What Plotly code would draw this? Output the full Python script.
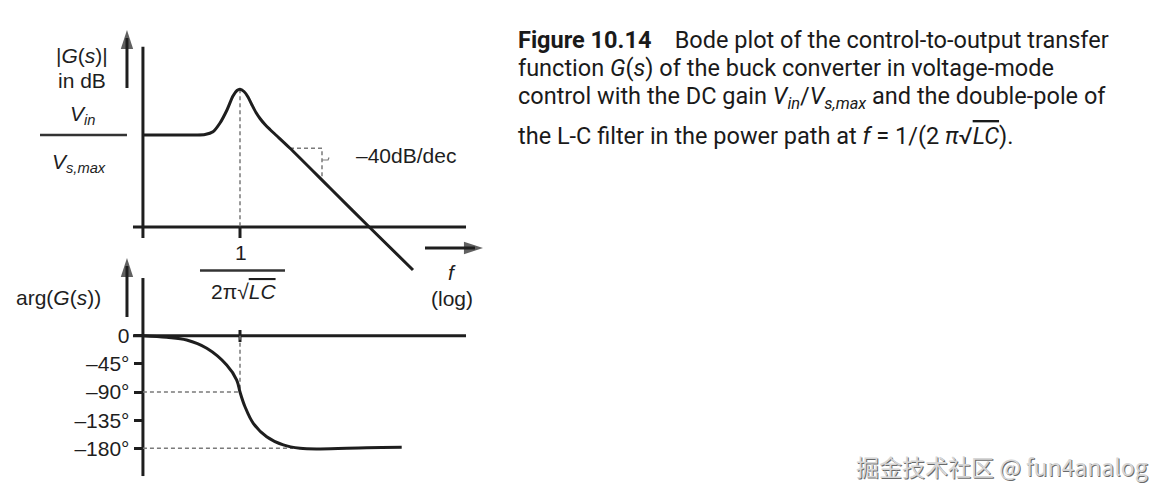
import math
import plotly.graph_objects as go

# ---------------- data (x = f / f0 on a log axis) ----------------
# magnitude |G(s)| in dB
mag_f = [0.107, 0.355, 0.447, 0.537, 0.631, 0.741, 0.851, 0.933, 1.0, 1.096,
         1.202, 1.318, 1.445, 1.585, 1.778, 1.995, 2.344, 3.162, 7.94, 19.95, 53.7]
mag_db = [36.8, 36.8, 37.0, 38.1, 41.6, 46.8, 52.4, 54.6, 55.1, 54.2,
          52.0, 48.8, 45.8, 43.4, 41.0, 39.0, 36.4, 31.5, 15.6, -0.3, -17.2]

# phase arg(G(s)) in degrees
ph_f = [0.107, 0.185, 0.293, 0.465, 0.736, 0.927, 1.0, 1.122, 1.358, 1.849,
        2.71, 3.98, 6.31, 18.49, 41.4]
ph_deg = [0.0, -2.6, -6.9, -20.1, -46.8, -70.8, -90.0, -113.5, -140.0, -161.4,
          -174.6, -180.0, -181.0, -179.0, -178.4]

# axis extents / guides
axis_f = [0.0851, 182.0]            # horizontal axes extent
vaxis_f = [0.107, 0.107]            # vertical axes position
mag_vaxis_db = [72.1, -4.4]
ph_vaxis_deg = [92.2, -224.3]
dc_gain_db = 36.8
fraction_f = [0.01, 0.0741]         # Vin / Vs,max fraction bar
f0 = 1.0
slope_f = [3.162, 6.607, 6.607]
slope_db = [31.5, 31.5, 19.0]
ph_tickvals = [0, -45, -90, -135, -180]
ph_ticktext = ["0", "–45°", "–90°", "–135°", "–180°"]
f0_bar_f = [0.398, 2.818]

INK = "#1e1e1e"
DASH = "#7a7a7a"
FONT = "Liberation Sans, Arial, sans-serif"

# page offset (browser body margin) compensation
OFF = 8
W, H = 1167 - OFF, 497 - OFF

fig = go.Figure()


def line(x, y, yaxis="y", color=INK, width=3, dash=None, shape="linear", smoothing=1.0):
    fig.add_trace(go.Scatter(x=x, y=y, yaxis=yaxis, mode="lines",
                             line=dict(color=color, width=width, dash=dash, shape=shape,
                                       smoothing=smoothing),
                             hoverinfo="skip", showlegend=False))


def arrow(x, y, yaxis="y"):
    fig.add_trace(go.Scatter(x=x, y=y, yaxis=yaxis, mode="lines+markers",
                             line=dict(color=INK, width=3, backoff=8),
                             marker=dict(symbol="arrow", size=[0, 20], color=INK,
                                         angleref="previous", line=dict(width=0)),
                             hoverinfo="skip", showlegend=False))


# ---- magnitude plot ----
line(axis_f, [0, 0])
line(vaxis_f, mag_vaxis_db)
line(fraction_f, [dc_gain_db, dc_gain_db], width=2.5, color="#333")
line([f0, f0], [0, -4.4])
line([f0, f0], [max(mag_db), 0], color=DASH, width=1.5, dash="4px,3px")
line(slope_f, slope_db, color=DASH, width=1.5, dash="4px,3px")
line([6.607, 7.6, 7.76], [26.8, 26.8, 27.8], color=DASH, width=1.2)
line(mag_f, mag_db, width=3, shape="spline", smoothing=0.8)
line(f0_bar_f, [-17.4, -17.4], width=2.5, color="#333")
arrow([0.0741, 0.0741], [55.6, 78.8])
arrow([70.8, 269.0], [-8.4, -8.4])

# ---- phase plot ----
line(axis_f, [0, 0], yaxis="y2")
line(vaxis_f, ph_vaxis_deg, yaxis="y2")
line([f0, f0], [9.1, -10.1], yaxis="y2")
line([0.107, f0], [-90, -90], yaxis="y2", color=DASH, width=1.5, dash="4px,3px")
line([0.107, 3.39], [-180, -180], yaxis="y2", color=DASH, width=1.5, dash="4px,3px")
line([f0, f0], [0, -90], yaxis="y2", color=DASH, width=1.5, dash="4px,3px")
line(ph_f, ph_deg, yaxis="y2", width=3, shape="spline")
arrow([0.0741, 0.0741], [29.9, 124.2], yaxis="y2")

lg = math.log10


def label(text, f, v, yref="y", size=21, **kw):
    fig.add_annotation(x=lg(f), y=v, xref="x", yref=yref, text=text, showarrow=False,
                       font=dict(family=FONT, size=size, color=INK), **kw)


label("|<i>G</i>(<i>s</i>)|", 10 ** -1.585, 68.8)
label("in dB", 10 ** -1.58, 58.8)
label("<i>V<sub>in</sub></i>", 10 ** -1.58, 44.8)
label("<i>V<sub>s,max</sub></i>", 10 ** -1.61, 25.6)
label("–40dB/dec", 10 ** 1.66, 28.8)
label("1", 10 ** 0.01, -10.0)
label("2π√<span style='text-decoration:overline'><i>LC</i></span>", 10 ** 0.03, -25.6)
label("<i>f</i>", 10 ** 2.12, -18.0)
label("(log)", 10 ** 2.12, -28.4)
label("arg(<i>G</i>(<i>s</i>))", 10 ** -1.82, 60.3, yref="y2")

# ---- caption ----
CAP = "Liberation Sans Narrow, Roboto, sans-serif"
cap_lines = [
    "<b>Figure 10.14</b>    Bode plot of the control-to-output transfer",
    "function <i>G</i>(<i>s</i>) of the buck converter in voltage-mode",
    "control with the DC gain <i>V<sub>in</sub></i>/<i>V<sub>s,max</sub></i> and the double-pole of",
    "the L-C filter in the power path at <i>f</i> = 1/(2 <i>π</i>√<span style='text-decoration:overline'><i>LC</i></span>).",
]
cap_y = [40, 68, 97, 136]
for t, yy in zip(cap_lines, cap_y):
    fig.add_annotation(x=(516 - OFF) / W, y=1 - (yy - OFF) / H, xref="paper", yref="paper",
                       xanchor="left", yanchor="middle", text=t, showarrow=False,
                       font=dict(family=CAP, size=23.5, color="#1a1a1a"))

# ---- watermark ----
wm = "掘金技术社区 @ fun4analog"
for dx, col in [(1, "#6a6a6a"), (0, "#d6d6d6")]:
    fig.add_annotation(x=(1150 - OFF) / W, y=1 - (466 - OFF) / H, xref="paper", yref="paper",
                       xanchor="right", yanchor="middle", text=wm, showarrow=False,
                       xshift=dx, yshift=-dx,
                       font=dict(family="Noto Sans CJK SC, sans-serif", size=23, color=col))

fig.update_layout(
    width=W, height=H,
    margin=dict(l=0, r=0, t=0, b=0),
    paper_bgcolor="white", plot_bgcolor="white",
    showlegend=False,
    xaxis=dict(type="log", range=[(OFF - 240) / 100, (1167 - 240) / 100], domain=[0, 1],
               visible=False, fixedrange=True),
    yaxis=dict(range=[-108.0, (227 - OFF) / 2.5], domain=[0, 1], visible=False, fixedrange=True),
    yaxis2=dict(range=[-257.8, (335.7 - OFF) / 0.6256], domain=[0, 1], overlaying="y",
                anchor="free", position=(142.7 - OFF) / W, side="left", showline=False,
                showgrid=False, zeroline=False, ticks="outside", ticklen=9, tickwidth=2.5,
                tickcolor=INK, tickvals=ph_tickvals, ticktext=ph_ticktext,
                tickfont=dict(family=FONT, size=21, color=INK), fixedrange=True),
)

fig.write_html("out.html")
